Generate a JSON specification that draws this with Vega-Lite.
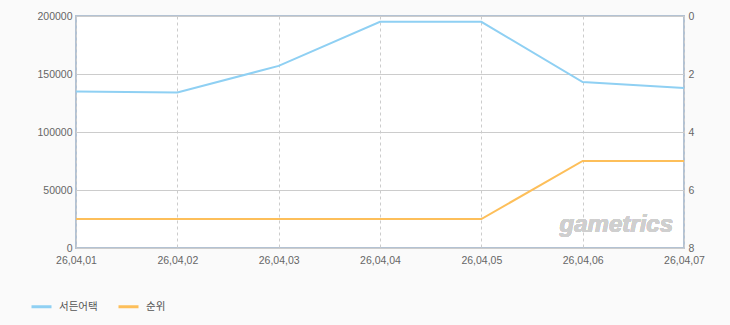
{
  "$schema": "https://vega.github.io/schema/vega-lite/v6.json",
  "width": 608,
  "height": 232,
  "autosize": "none",
  "padding": {"left": 76, "top": 16, "right": 46, "bottom": 77},
  "background": "#fafafa",
  "config": {
    "view": {"fill": "#ffffff", "stroke": "#b3c2d3", "strokeWidth": 2},
    "font": "Liberation Sans",
    "axis": {
      "labelFont": "Liberation Sans",
      "labelFontSize": 10.5,
      "labelColor": "#666666",
      "domain": false,
      "ticks": false,
      "title": null,
      "gridColor": "#cccccc",
      "gridWidth": 1
    }
  },
  "data": {
    "values": [
      {"date": "26,04,01", "series": "서든어택", "value": 135000},
      {"date": "26,04,02", "series": "서든어택", "value": 134000},
      {"date": "26,04,03", "series": "서든어택", "value": 157000},
      {"date": "26,04,04", "series": "서든어택", "value": 195000},
      {"date": "26,04,05", "series": "서든어택", "value": 195000},
      {"date": "26,04,06", "series": "서든어택", "value": 143000},
      {"date": "26,04,07", "series": "서든어택", "value": 138000},
      {"date": "26,04,01", "series": "순위", "value": 7},
      {"date": "26,04,02", "series": "순위", "value": 7},
      {"date": "26,04,03", "series": "순위", "value": 7},
      {"date": "26,04,04", "series": "순위", "value": 7},
      {"date": "26,04,05", "series": "순위", "value": 7},
      {"date": "26,04,06", "series": "순위", "value": 5},
      {"date": "26,04,07", "series": "순위", "value": 5}
    ]
  },
  "layer": [
    {
      "transform": [{"filter": "datum.series === '서든어택'"}],
      "mark": {"type": "line", "strokeWidth": 2},
      "encoding": {
        "x": {
          "field": "date", "type": "ordinal", "sort": null,
          "scale": {"type": "point", "padding": 0},
          "axis": {"labelAngle": 0, "labelPadding": 7, "grid": true, "gridDash": [3, 3], "labelFlush": false}
        },
        "y": {
          "field": "value", "type": "quantitative",
          "scale": {"domain": [0, 200000], "nice": false},
          "axis": {"values": [0, 50000, 100000, 150000, 200000], "format": "d", "grid": true, "labelPadding": 4, "labelFlush": false}
        },
        "color": {
          "field": "series", "type": "nominal",
          "scale": {"domain": ["서든어택", "순위"], "range": ["#8fd0f3", "#fdbf5a"]},
          "legend": {
            "orient": "none", "direction": "horizontal", "legendX": -46, "legendY": 279,
            "title": null, "symbolType": "stroke", "symbolStrokeWidth": 3, "symbolSize": 400,
            "labelFont": "Noto Sans CJK KR", "labelFontSize": 10.5, "labelColor": "#555555",
            "columnPadding": 14, "labelOffset": 6
          }
        }
      }
    },
    {
      "transform": [{"filter": "datum.series === '순위'"}],
      "mark": {"type": "line", "strokeWidth": 2},
      "encoding": {
        "x": {"field": "date", "type": "ordinal", "sort": null, "scale": {"type": "point", "padding": 0}},
        "y": {
          "field": "value", "type": "quantitative",
          "scale": {"domain": [0, 8], "reverse": true, "nice": false},
          "axis": {"orient": "right", "values": [0, 2, 4, 6, 8], "grid": false, "labelPadding": 4, "labelFlush": false}
        },
        "color": {"field": "series", "type": "nominal"}
      }
    },
    {
      "mark": {"type": "text", "text": "gametrics", "align": "right", "baseline": "alphabetic", "dx": -11, "fontSize": 24, "fontWeight": "bold", "fontStyle": "italic", "font": "Liberation Sans", "color": "#cfcfcf"},
      "encoding": {
        "x": {"datum": "26,04,07", "type": "ordinal", "scale": {"type": "point", "padding": 0}},
        "y": {"datum": 14000, "type": "quantitative", "scale": {"domain": [0, 200000], "nice": false}, "axis": null}
      }
    }
  ],
  "resolve": {"scale": {"y": "independent"}}
}
